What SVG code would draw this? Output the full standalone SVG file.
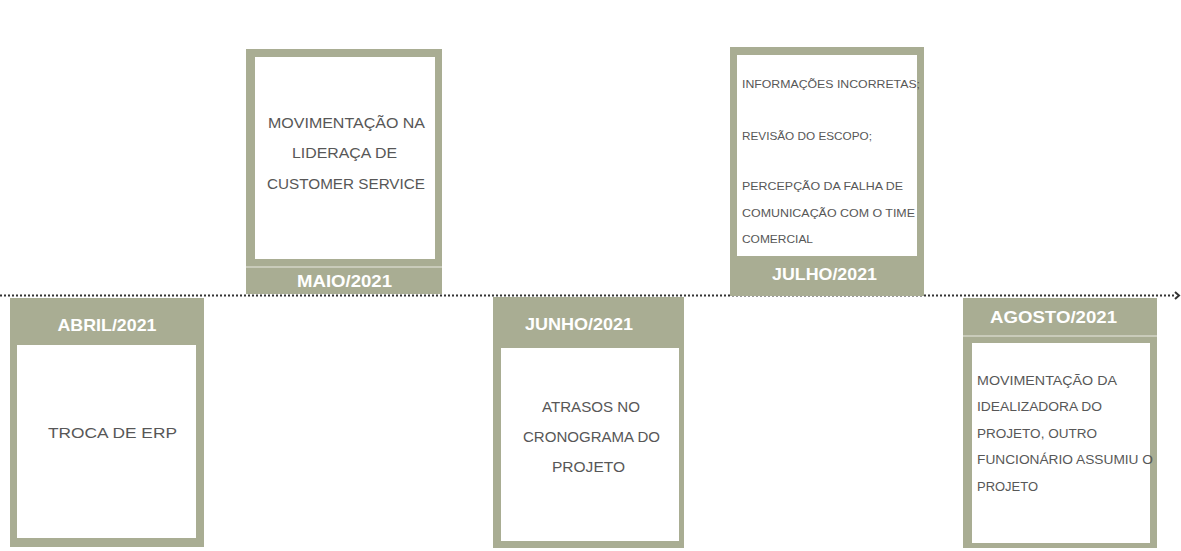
<svg xmlns="http://www.w3.org/2000/svg" width="1181" height="551" viewBox="0 0 1181 551">
<style>
.frame{fill:#a9ad93}
.inner{fill:#ffffff}
.sep{stroke:#c9cbba;stroke-width:2}
.hdr{font-family:"Liberation Sans",Arial,sans-serif;font-weight:bold;font-size:17px;fill:#ffffff;text-anchor:middle}
.body{font-family:"Liberation Sans",Arial,sans-serif;font-size:15.5px;fill:#575757}
.small{font-family:"Liberation Sans",Arial,sans-serif;font-size:11px;fill:#575757}
.smallb{font-family:"Liberation Sans",Arial,sans-serif;font-size:12px;fill:#575757}
.line{stroke:#333333;stroke-width:2;stroke-dasharray:2 2;fill:none}
</style>
<rect width="1181" height="551" fill="#ffffff"/>
<g id="connectors">
<line class="line" x1="0" y1="295.5" x2="1174" y2="295.5"/>
<path d="M1175 292 L1179 295.5 L1175 299" fill="none" stroke="#333333" stroke-width="2"/>
</g>
<g id="node-abril">
<rect class="frame" x="10" y="298" width="194" height="249"/>
<rect class="inner" x="17" y="345" width="179" height="193"/>
<text class="hdr" x="107" y="331" textLength="99" lengthAdjust="spacingAndGlyphs">ABRIL/2021</text>
<text class="body" x="48" y="438" textLength="129" lengthAdjust="spacingAndGlyphs">TROCA DE ERP</text>
</g>
<g id="node-maio">
<rect class="frame" x="246" y="49" width="196" height="245"/>
<rect class="inner" x="255" y="57" width="180" height="202"/>
<line class="sep" x1="246" y1="267" x2="442" y2="267"/>
<text class="hdr" x="344.5" y="287" textLength="95" lengthAdjust="spacingAndGlyphs">MAIO/2021</text>
<text class="body" x="268" y="128" textLength="157" lengthAdjust="spacingAndGlyphs">MOVIMENTAÇÃO NA</text>
<text class="body" x="292" y="158" textLength="105" lengthAdjust="spacingAndGlyphs">LIDERAÇA DE</text>
<text class="body" x="267" y="189" textLength="158" lengthAdjust="spacingAndGlyphs">CUSTOMER SERVICE</text>
</g>
<g id="node-junho">
<rect class="frame" x="493" y="297" width="191" height="251"/>
<rect class="inner" x="501" y="348" width="178" height="193"/>
<text class="hdr" x="579" y="330" textLength="108" lengthAdjust="spacingAndGlyphs">JUNHO/2021</text>
<text class="body" x="542" y="412" textLength="98" lengthAdjust="spacingAndGlyphs">ATRASOS NO</text>
<text class="body" x="523" y="442" textLength="137" lengthAdjust="spacingAndGlyphs">CRONOGRAMA DO</text>
<text class="body" x="552" y="472" textLength="73" lengthAdjust="spacingAndGlyphs">PROJETO</text>
</g>
<g id="node-julho">
<rect class="frame" x="730" y="47" width="194" height="249"/>
<rect class="inner" x="737" y="55" width="180" height="201"/>
<text class="hdr" x="824.5" y="280" textLength="105" lengthAdjust="spacingAndGlyphs">JULHO/2021</text>
<text class="small" x="742" y="88" textLength="178" lengthAdjust="spacingAndGlyphs">INFORMAÇÕES INCORRETAS;</text>
<text class="small" x="742" y="140" textLength="130" lengthAdjust="spacingAndGlyphs">REVISÃO DO ESCOPO;</text>
<text class="small" x="742" y="190" textLength="161" lengthAdjust="spacingAndGlyphs">PERCEPÇÃO DA FALHA DE</text>
<text class="small" x="742" y="217" textLength="173" lengthAdjust="spacingAndGlyphs">COMUNICAÇÃO COM O TIME</text>
<text class="small" x="742" y="243" textLength="71" lengthAdjust="spacingAndGlyphs">COMERCIAL</text>
</g>
<g id="node-agosto">
<rect class="frame" x="963" y="298" width="194" height="250"/>
<rect class="inner" x="972" y="343" width="178" height="200"/>
<line class="sep" x1="963" y1="336" x2="1157" y2="336"/>
<text class="hdr" x="1053.5" y="323" textLength="127" lengthAdjust="spacingAndGlyphs">AGOSTO/2021</text>
<text class="smallb" x="977" y="385" textLength="140" lengthAdjust="spacingAndGlyphs">MOVIMENTAÇÃO DA</text>
<text class="smallb" x="977" y="411" textLength="125" lengthAdjust="spacingAndGlyphs">IDEALIZADORA DO</text>
<text class="smallb" x="977" y="438" textLength="120" lengthAdjust="spacingAndGlyphs">PROJETO, OUTRO</text>
<text class="smallb" x="977" y="464" textLength="176" lengthAdjust="spacingAndGlyphs">FUNCIONÁRIO ASSUMIU O</text>
<text class="smallb" x="977" y="491" textLength="61" lengthAdjust="spacingAndGlyphs">PROJETO</text>
</g>
</svg>
